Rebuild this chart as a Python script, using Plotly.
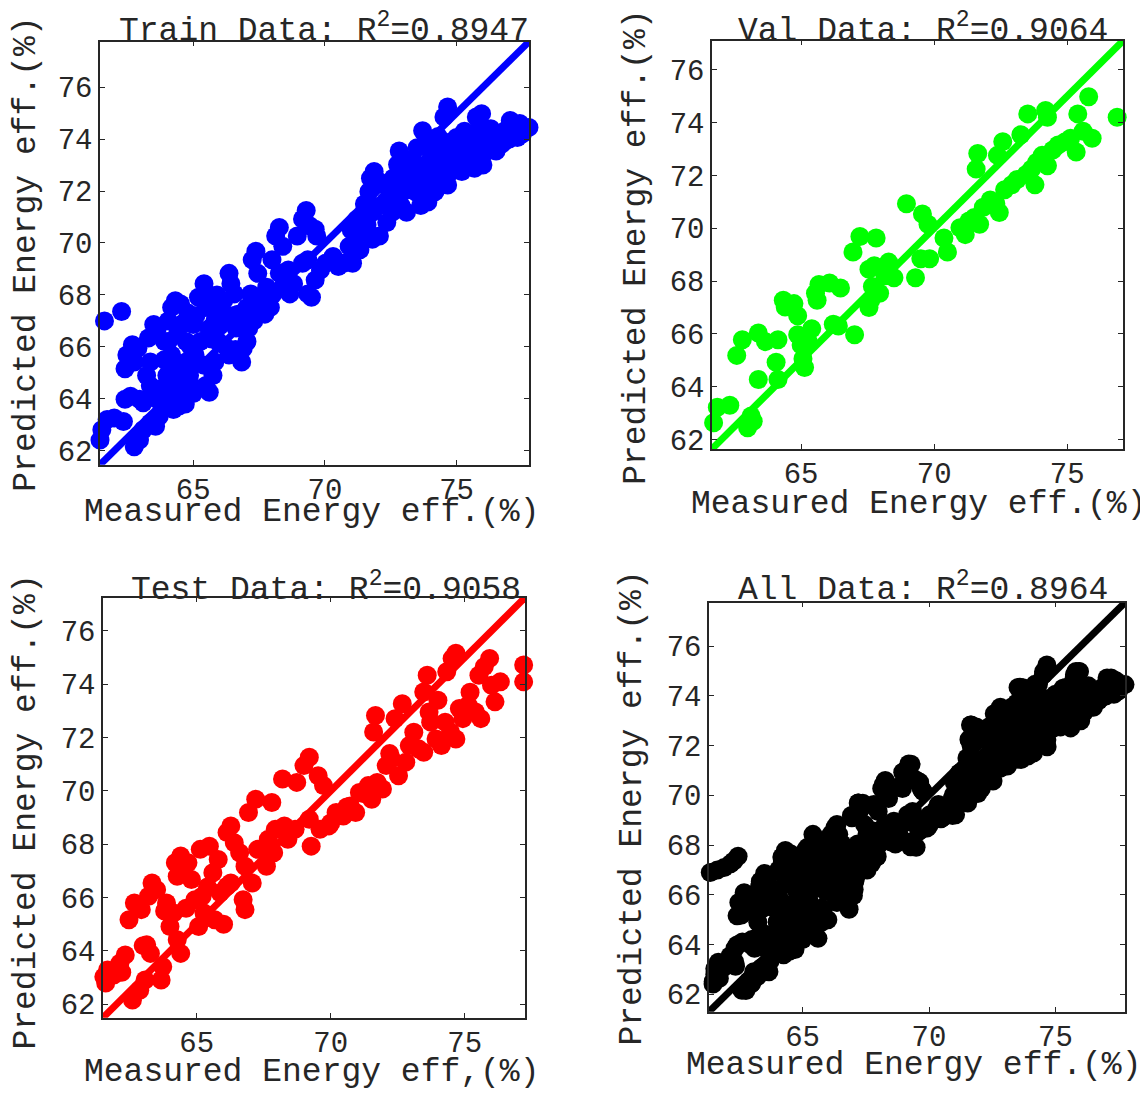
import plotly.graph_objects as go

# ---------------- data ----------------
train_x = [61.63, 62.28, 61.46, 61.53, 61.73, 62.0, 62.35, 62.41, 62.62, 62.96, 63.1,
           62.41, 62.48, 62.69, 62.9, 62.76, 63.3, 63.5, 63.64, 63.91, 63.37, 63.23, 63.37,
           62.76, 62.96, 63.1, 63.37, 63.57, 63.71, 63.91, 64.12, 64.25, 64.46, 64.52,
           64.18, 64.32, 64.52, 64.05, 64.05, 64.18, 64.32, 64.32, 64.59, 64.73, 64.73,
           65.0, 64.86, 65.07, 65.2, 65.41, 65.54, 65.48, 65.27, 65.41, 65.48, 65.61,
           65.75, 65.82, 65.95, 65.82, 66.02, 66.16, 66.36, 66.43, 66.56, 66.29, 66.36,
           66.63, 66.7, 66.9, 66.84, 67.04, 67.11, 67.04, 67.18, 67.24, 67.38, 67.45,
           67.59, 67.79, 67.72, 67.93, 67.99, 68.13, 68.27, 68.4, 68.27, 68.4, 68.67,
           68.61, 68.81, 68.95, 69.15, 69.29, 69.42, 69.63, 69.69, 69.15, 69.35, 69.35,
           69.49, 69.63, 69.83, 70.03, 70.31, 70.51, 70.71, 71.05, 70.92, 71.33, 71.26,
           71.53, 71.39, 71.8, 71.8, 72.07, 71.67, 71.73, 71.87, 72.07, 72.35, 72.55,
           72.62, 72.76, 72.82, 72.96, 72.89, 73.1, 73.16, 73.44, 73.37, 73.5, 73.71,
           73.84, 73.64, 73.91, 74.12, 74.18, 74.39, 74.52, 74.66, 74.46, 74.66, 74.8,
           75.0, 75.07, 75.2, 75.41, 75.48, 75.68, 75.75, 75.95, 76.09, 76.16, 76.36,
           76.5, 76.7, 76.84, 77.04, 77.24, 77.31, 77.75,
           64.9, 65.1, 65.7, 66.0, 66.5, 67.3, 68.0, 68.5, 71.0, 71.5, 72.3, 72.6, 73.0,
           73.3, 73.7, 74.0, 74.3, 74.6, 74.9, 75.2, 75.5, 75.9, 76.3, 76.6, 77.0,
           63.6, 63.8, 64.0, 63.9, 64.4, 64.6, 64.8, 64.9, 65.1, 65.6, 65.9, 66.3, 66.6,
           64.7, 65.0, 71.2, 71.6, 72.0, 72.3, 72.5, 72.8, 73.1, 73.4, 73.7, 73.9, 74.1,
           74.3, 74.6, 74.8, 75.1, 75.3, 75.6, 75.8, 76.0, 76.2, 76.5, 76.8, 77.0, 77.4,
           77.5]
train_y = [67.0, 67.36, 62.41, 62.81, 63.2, 63.26, 63.13, 63.98, 64.1, 63.98, 63.85,
           65.16, 65.69, 66.08, 65.95, 65.42, 66.34, 66.86, 66.73, 66.21, 65.42, 64.9, 64.5,
           62.15, 62.41, 62.81, 63.07, 62.94, 63.33, 63.72, 64.11, 63.59, 63.72, 64.11,
           67.52, 67.78, 67.65, 67.0, 66.21, 65.69, 65.16, 64.64, 64.51, 65.42, 66.21,
           66.86, 64.9, 65.69, 67.91, 68.43, 68.04, 67.52, 66.21, 65.29, 64.51, 64.25,
           64.9, 65.42, 66.21, 67.0, 67.52, 67.78, 68.83, 68.43, 68.04, 65.95, 65.69,
           66.73, 67.26, 65.95, 65.42, 66.21, 66.73, 67.52, 68.04, 69.35, 69.68, 68.83,
           67.78, 68.3, 67.26, 67.52, 69.35, 70.27, 70.6, 69.87, 68.83, 68.3, 68.04,
           68.96, 68.43, 70.27, 70.92, 71.25, 70.66, 70.53, 70.27, 69.22, 69.35, 68.04,
           67.91, 68.57, 68.96, 69.22, 69.48, 69.09, 69.22, 69.22, 69.87, 69.74, 70.4,
           70.4, 70.92, 71.18, 70.14, 70.27, 71.97, 72.49, 72.75, 72.36, 70.79, 71.18,
           71.97, 73.02, 73.54, 73.28, 71.44, 71.18, 72.36, 71.97, 73.15, 73.67, 74.32,
           73.93, 71.44, 71.58, 72.49, 71.97, 73.8, 74.85, 75.24, 73.02, 72.23, 72.75,
           74.06, 73.41, 72.75, 73.8, 73.15, 72.88, 74.85, 74.98, 74.32, 73.54, 73.8,
           73.54, 73.8, 74.32, 74.72, 74.32, 74.06, 74.45,
           66.0, 67.2, 66.3, 66.8, 67.2, 67.0, 68.0, 68.5, 70.5, 71.5, 71.6, 72.5, 72.0,
           72.6, 72.8, 73.2, 72.8, 73.5, 73.2, 73.6, 74.2, 73.9, 74.4, 74.2, 74.0,
           64.0, 64.4, 64.9, 65.5, 66.5, 66.9, 67.3, 65.5, 64.4, 66.7, 68.0, 67.0, 65.9,
           63.8, 64.2, 70.9, 70.7, 71.4, 72.2, 71.6, 72.0, 72.9, 72.3, 72.2, 72.6, 73.6,
           74.1, 72.8, 73.9, 72.9, 74.3, 73.5, 74.3, 73.0, 74.1, 74.0, 73.9, 74.4, 74.6,
           74.2]

val_x = [61.71, 61.85, 62.32, 62.58, 62.79, 63.39, 63.66, 64.13, 63.39, 62.99, 63.12,
         63.2, 64.06, 64.13, 64.33, 64.4, 64.73, 64.87, 64.87, 65.0, 65.07, 65.13, 65.4,
         65.27, 65.54, 65.67, 66.07, 66.48, 65.6, 66.21, 66.4, 67.01, 66.95, 67.21, 67.82,
         67.55, 67.75, 67.68, 67.62, 67.55, 67.95, 68.15, 68.29, 68.49, 68.96, 69.3, 69.5,
         69.83, 69.56, 69.77, 70.37, 70.5, 70.97, 71.17, 71.31, 71.51, 71.71, 71.85, 71.64,
         71.58, 72.11, 72.32, 72.45, 72.38, 72.58, 72.65, 72.92, 73.12, 73.26, 73.52,
         73.46, 73.66, 73.79, 73.86, 74.06, 74.19, 74.26, 74.26, 74.46, 74.66, 74.93,
         75.13, 75.34, 75.4, 75.6, 75.81, 75.94, 76.88]
val_y = [62.64, 63.23, 63.3, 65.19, 65.78, 66.04, 65.71, 65.78, 64.28, 62.45, 62.9,
         62.7, 64.93, 64.28, 67.28, 67.02, 67.15, 66.69, 65.97, 65.58, 65.06, 64.73, 66.2,
         65.71, 67.54, 67.87, 67.93, 67.74, 67.28, 66.37, 66.3, 65.97, 69.1, 69.69, 69.63,
         68.45, 68.58, 67.8, 67.28, 67.0, 67.54, 68.2, 68.72, 68.13, 70.93, 68.13, 68.85,
         68.85, 70.54, 70.15, 69.63, 69.1, 70.02, 69.76, 70.28, 70.41, 70.15, 70.8, 72.83,
         72.24, 71.07, 70.93, 70.6, 72.76, 73.28, 71.46, 71.65, 71.85, 73.54, 74.33,
         72.04, 72.24, 71.65, 72.5, 72.76, 74.46, 74.2, 72.37, 72.96, 73.15, 73.28,
         73.41, 72.89, 74.33, 73.67, 74.98, 73.41, 74.2]

test_x = [61.47, 61.53, 61.67, 62.13, 62.33, 62.47, 62.67, 62.93, 62.6, 62.87, 63.07,
          63.13, 63.27, 63.33, 63.2, 63.67, 63.73, 63.87, 64.0, 64.13, 64.2, 64.27, 64.4,
          64.53, 64.4, 64.27, 64.67, 64.8, 64.93, 65.07, 65.27, 65.2, 65.13, 65.47, 65.6,
          65.67, 65.8, 65.87, 66.13, 66.27, 66.4, 66.13, 66.27, 66.6, 66.8, 66.73, 66.8,
          66.93, 67.2, 67.07, 67.27, 67.6, 67.8, 67.67, 67.93, 67.87, 68.2, 68.27, 68.4,
          68.73, 68.67, 69.0, 69.2, 69.53, 69.27, 69.2, 69.6, 69.93, 69.73, 70.2, 70.47,
          70.73, 70.93, 71.07, 71.4, 71.53, 71.73, 71.93, 71.67, 71.6, 72.07, 72.27, 72.53,
          72.4, 72.67, 72.8, 72.93, 73.27, 73.47, 73.6, 73.47, 73.67, 73.73, 73.93, 74.13,
          74.27, 74.33, 74.53, 74.67, 74.47, 74.67, 74.8, 74.93, 75.13, 75.4, 75.6, 75.53,
          75.73, 75.93, 76.0, 76.13, 76.33, 77.2, 77.2,
          61.6, 61.9, 62.2, 63.0, 63.5, 63.8, 64.6, 65.4, 66.0, 70.0, 70.6, 71.2, 72.2,
          73.1, 74.0, 75.2]
test_y = [62.53, 63.03, 63.29, 63.54, 63.85, 65.17, 65.8, 65.55, 62.16, 62.53, 62.91,
          64.23, 63.91, 66.55, 66.05, 62.91, 63.41, 65.8, 64.92, 65.42, 67.31, 66.8, 67.56,
          66.93, 63.91, 64.42, 67.31, 66.68, 65.92, 64.92, 65.42, 66.05, 67.81, 67.93, 66.93,
          65.17, 67.43, 66.18, 68.44, 68.69, 68.06, 66.43, 66.55, 67.68, 67.18, 65.92, 65.55,
          69.19, 69.69, 66.55, 67.81, 67.18, 69.57, 68.19, 68.56, 67.68, 70.45, 68.69, 68.19,
          70.32, 68.56, 70.95, 71.26, 70.57, 67.93, 68.94, 68.56, 68.69, 70.2, 69.19, 69.06,
          69.44, 69.19, 69.94, 70.2, 69.69, 70.32, 70.07, 72.83, 72.21, 70.95, 71.2, 70.57,
          72.71, 73.27, 71.08, 71.7, 71.58, 73.71, 74.34, 71.45, 72.96, 72.58, 71.95, 71.7,
          72.58, 74.47, 74.97, 75.16, 72.21, 71.95, 73.09, 72.71, 73.21, 72.96, 72.71, 74.34,
          74.66, 74.97, 73.96, 73.34, 74.09, 74.72, 74.09,
          62.8, 63.1, 63.2, 64.2, 66.3, 65.5, 65.6, 66.4, 65.0, 68.8, 69.4, 69.9, 71.4,
          72.2, 73.4, 73.7]

# points visible only in the "All Data" panel
all_extra_x = [61.35, 61.9, 62.15, 62.45]
all_extra_y = [66.9, 67.1, 67.25, 67.55]

all_x = train_x + val_x + test_x + all_extra_x
all_y = train_y + val_y + test_y + all_extra_y

titles = ["Train Data: R<sup>2</sup>=0.8947", "Val Data: R<sup>2</sup>=0.9064",
          "Test Data: R<sup>2</sup>=0.9058", "All Data: R<sup>2</sup>=0.8964"]
xlabels = ["Measured Energy eff.(%)", "Measured Energy eff.(%)",
           "Measured Energy eff,(%)", "Measured Energy eff.(%)"]
ylabel = "Predicted Energy eff.(%)"
colors = ["#0000FF", "#00FF00", "#FF0000", "#000000"]
ranges = [[61.46, 77.75], [61.65, 77.1], [61.5, 77.25], [61.3, 77.75]]
x_ticks = [65, 70, 75]
y_ticks = [62, 64, 66, 68, 70, 72, 74, 76]

# ---------------- layout geometry (page pixels; page body has an 8px margin) ----------------
OFF = 8
W, H = 1148 - OFF, 1101 - OFF
boxes = [(100, 529, 42, 469), (712, 1123, 41, 453), (103, 525, 603, 1027), (709, 1125, 608, 1021)]
title_pos = [(324, 29), (923, 29), (326, 593), (923, 593)]
xlabel_pos = [(311, 517), (918, 509), (311, 1082), (913, 1075)]
ylabel_pos = [(27, 257), (637, 250), (27, 820), (633, 816)]


def px(x):
    return (x - OFF) / W


def py(y):
    return 1 - (y - OFF) / H


FONT = "Liberation Mono, Courier New, monospace"
TXT = "#262626"

fig = go.Figure()
datasets = [(train_x, train_y), (val_x, val_y), (test_x, test_y), (all_x, all_y)]

layout = dict(width=W, height=H, margin=dict(l=0, r=0, t=0, b=0),
              paper_bgcolor="white", plot_bgcolor="white", showlegend=False)
annotations = []
for i, ((xs, ys), col, rng, box) in enumerate(zip(datasets, colors, ranges, boxes)):
    n = "" if i == 0 else str(i + 1)
    xa, ya = "x" + n, "y" + n
    fig.add_trace(go.Scatter(x=xs, y=ys, mode="markers", xaxis=xa, yaxis=ya,
                             marker=dict(size=19, color=col, line=dict(width=0)),
                             cliponaxis=False))
    fig.add_trace(go.Scatter(x=rng, y=rng, mode="lines", xaxis=xa, yaxis=ya,
                             line=dict(color=col, width=7), cliponaxis=False))
    l, r, t, b = box
    common = dict(showline=True, mirror="ticks", linecolor=TXT, linewidth=1.5,
                  ticks="inside", ticklen=5, tickwidth=1.2, tickcolor=TXT,
                  showgrid=False, zeroline=False, range=rng,
                  tickfont=dict(family=FONT, size=29, color=TXT))
    layout["xaxis" + n] = dict(domain=[px(l), px(r)], anchor=ya, tickvals=x_ticks,
                               ticklabelstandoff=-2, **common)
    layout["yaxis" + n] = dict(domain=[py(b), py(t)], anchor=xa, tickvals=y_ticks, **common)

    tx, ty = title_pos[i]
    annotations.append(dict(text=titles[i], x=px(tx), y=py(ty), xref="paper", yref="paper",
                            showarrow=False, xanchor="center", yanchor="middle",
                            font=dict(family=FONT, size=33, color=TXT)))
    lx, ly = xlabel_pos[i]
    annotations.append(dict(text=xlabels[i], x=px(lx), y=py(ly), xref="paper", yref="paper",
                            showarrow=False, xanchor="center", yanchor="middle",
                            font=dict(family=FONT, size=33, color=TXT)))
    yx, yy = ylabel_pos[i]
    annotations.append(dict(text=ylabel, x=px(yx), y=py(yy), xref="paper", yref="paper",
                            showarrow=False, xanchor="center", yanchor="middle", textangle=-90,
                            font=dict(family=FONT, size=33, color=TXT)))

layout["annotations"] = annotations
fig.update_layout(**layout)
fig.write_html("out.html")
